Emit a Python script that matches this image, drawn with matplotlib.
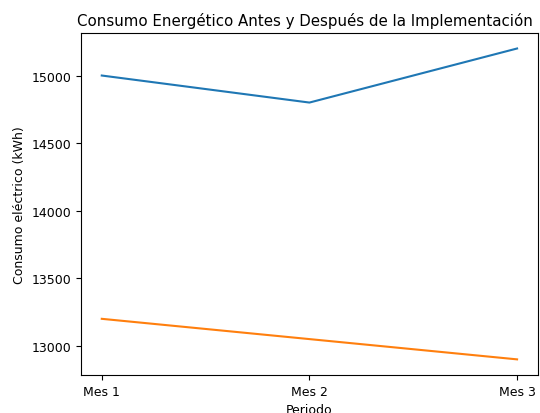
import matplotlib.pyplot as plt

# Datos de consumo por periodo
periodos = ['Mes 1', 'Mes 2', 'Mes 3']
consumo_antes = [15000, 14800, 15200]
consumo_despues = [13200, 13050, 12900]

fig = plt.figure(figsize=(5.4, 4.14), dpi=100)
ax = fig.add_axes([0.15, 0.092, 0.846, 0.826])

ax.plot(periodos, consumo_antes, color='#1f77b4')
ax.plot(periodos, consumo_despues, color='#ff7f0e')

ax.set_title('Consumo Energético Antes y Después de la Implementación', fontsize=10.8, x=0.49)
ax.set_xlabel('Periodo', fontsize=9)
ax.set_ylabel('Consumo eléctrico (kWh)', fontsize=9)
ax.tick_params(labelsize=9)

plt.savefig('out.png', dpi=100)
